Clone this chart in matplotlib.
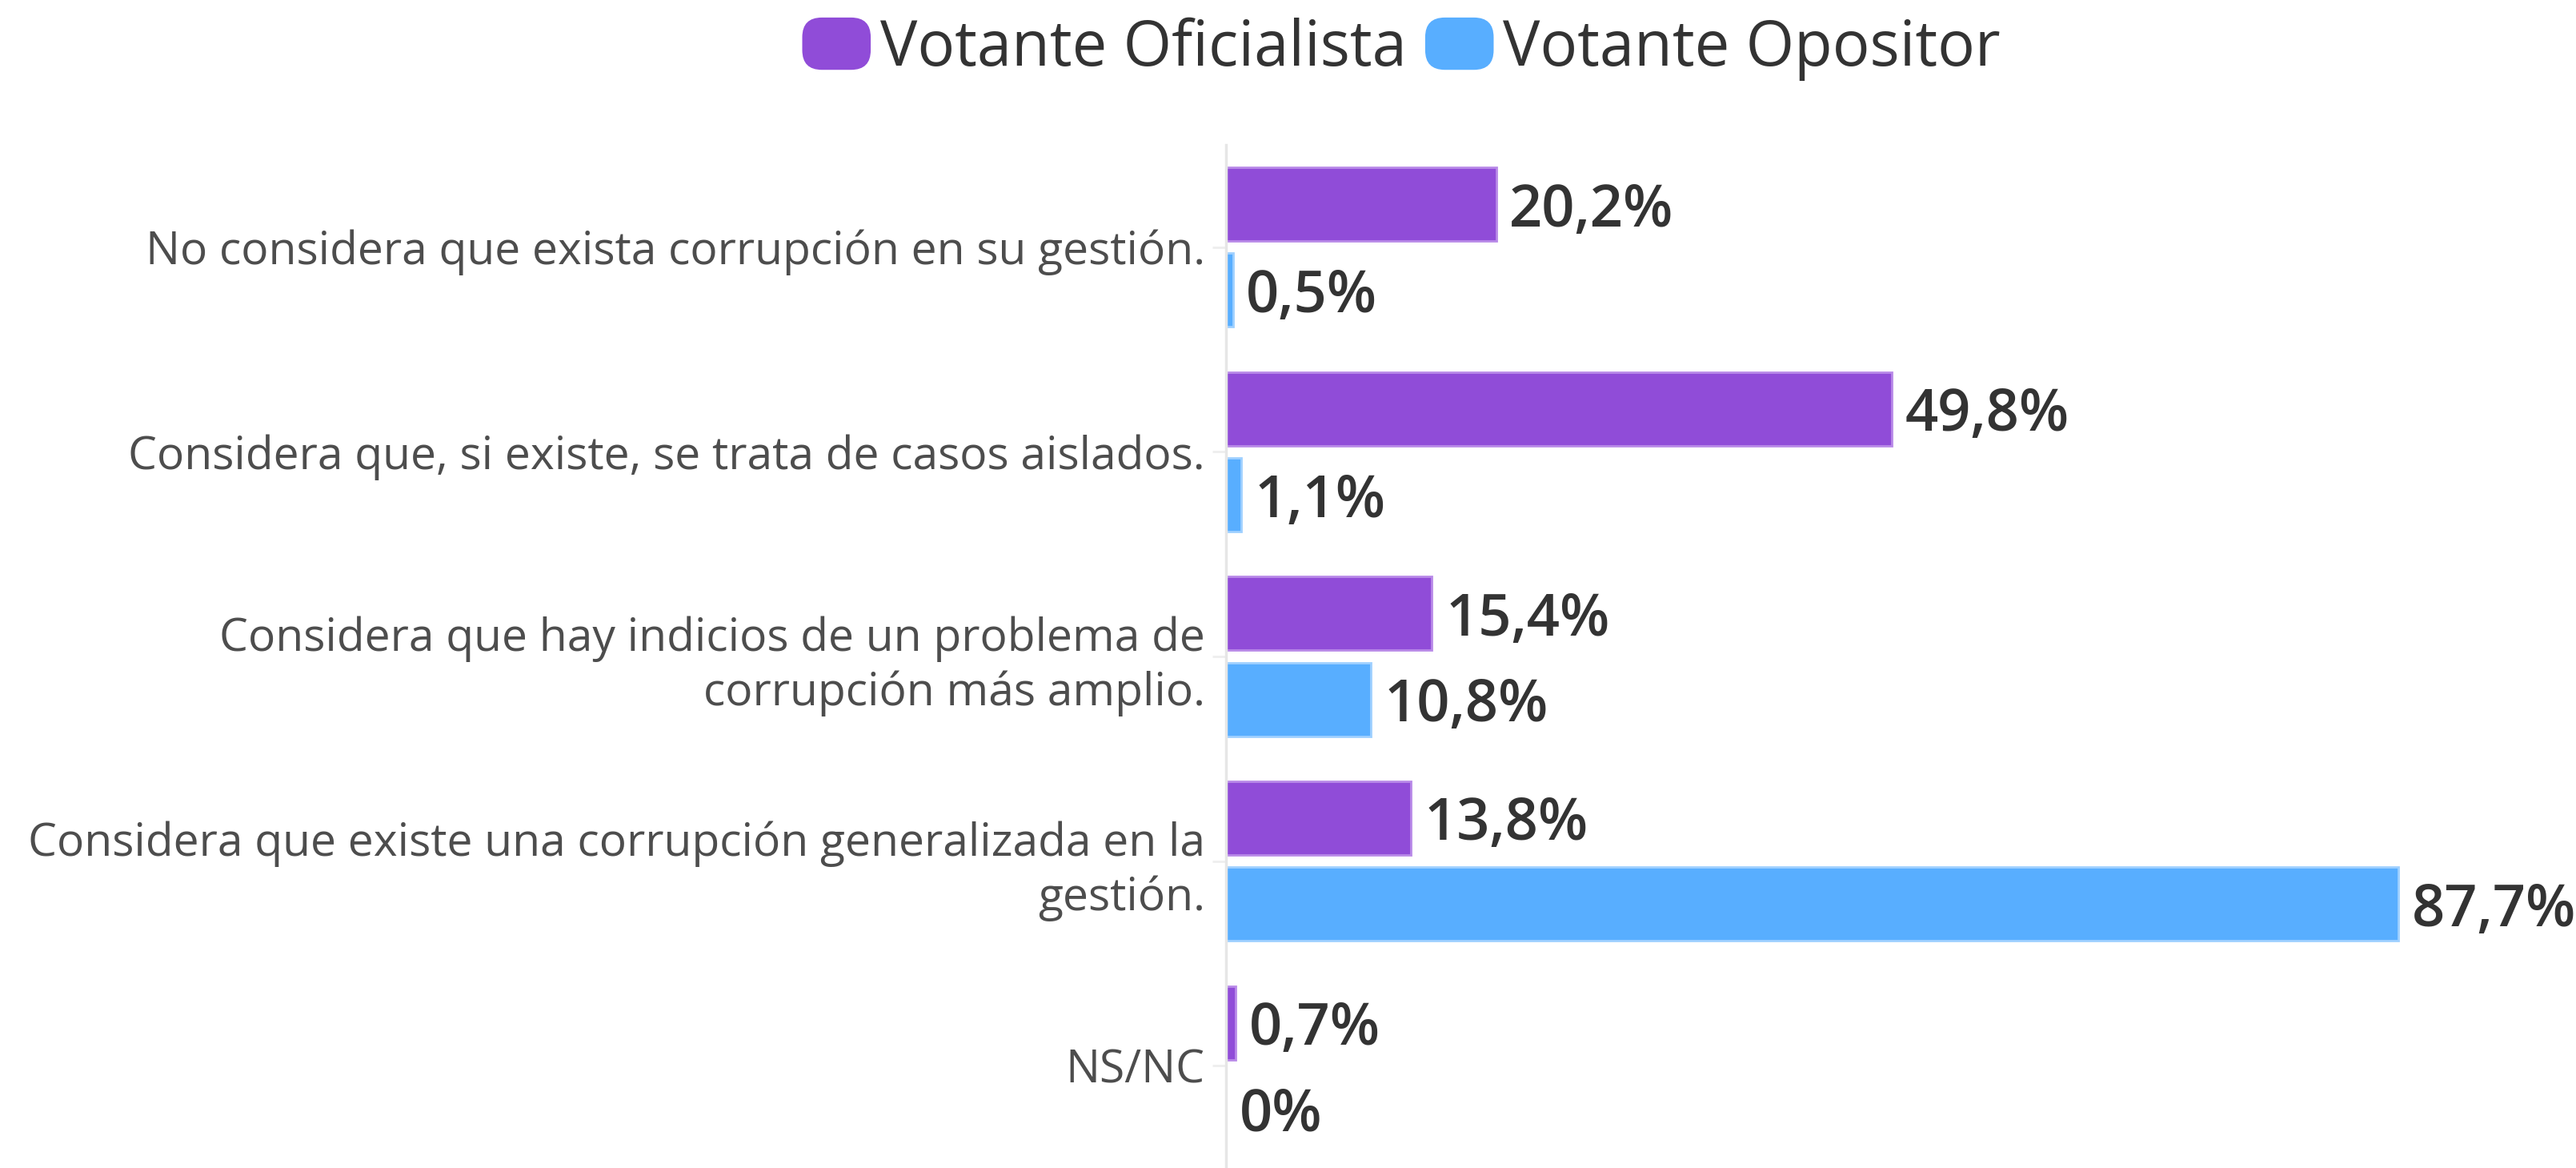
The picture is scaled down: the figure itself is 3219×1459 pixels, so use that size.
import matplotlib
matplotlib.use("Agg")
from matplotlib import pyplot as plt
from matplotlib.patches import FancyBboxPatch, Patch
from matplotlib.legend_handler import HandlerPatch
import numpy as np

plt.rcParams['font.family'] = ['Open Sans', 'DejaVu Sans']

# data
categorias = [
    "No considera que exista corrupción en su gestión.",
    "Considera que, si existe, se trata de casos aislados.",
    "Considera que hay indicios de un problema de\ncorrupción más amplio.",
    "Considera que existe una corrupción generalizada en la\ngestión.",
    "NS/NC",
]
oficialista = [20.2, 49.8, 15.4, 13.8, 0.7]
opositor = [0.5, 1.1, 10.8, 87.7, 0.0]
etiquetas_of = ["20,2%", "49,8%", "15,4%", "13,8%", "0,7%"]
etiquetas_op = ["0,5%", "1,1%", "10,8%", "87,7%", "0%"]
series = ["Votante Oficialista", "Votante Opositor"]

morado = '#904cd8'
celeste = '#58aeff'

fig = plt.figure(figsize=(32.19, 14.59), dpi=100)
ax = fig.add_axes([0.476, 0.0, 0.524, 0.876])

y = np.arange(len(categorias))
h = 0.36
off = 0.21
ax.barh(y - off, oficialista, height=h, color=morado, edgecolor='#b98ae8', linewidth=2)
ax.barh(y + off, opositor, height=h, color=celeste, edgecolor='#9fd0ff', linewidth=2)

for i in range(len(categorias)):
    ax.text(oficialista[i] + 1.0, y[i] - off, etiquetas_of[i], va='center_baseline', ha='left',
            fontsize=52, color='#333333', fontweight='semibold')
    ax.text(opositor[i] + 1.0, y[i] + off, etiquetas_op[i], va='center_baseline', ha='left',
            fontsize=52, color='#333333', fontweight='semibold')

ax.set_xlim(0, 101)
ax.set_ylim(len(categorias) - 0.5, -0.5)
ax.set_yticks(y)
ax.set_yticklabels(categorias, fontsize=41, color='#4d4d4d', ha='right', multialignment='right',
                   linespacing=1.25)
ax.tick_params(axis='y', length=12, width=2, color='#eeeeee', pad=7)
ax.set_xticks([])
for s in ['top', 'right', 'bottom']:
    ax.spines[s].set_visible(False)
ax.spines['left'].set_color('#e6e6e6')
ax.spines['left'].set_linewidth(2.5)


class RoundHandler(HandlerPatch):
    def create_artists(self, legend, orig_handle, xdescent, ydescent, width, height, fontsize, trans):
        p = FancyBboxPatch((-xdescent, -ydescent - height * 0.1), width, height * 1.2,
                           boxstyle='round,pad=0,rounding_size=%f' % (height * 0.45),
                           facecolor=orig_handle.get_facecolor(), edgecolor='none', transform=trans)
        return [p]


handles = [Patch(color=morado), Patch(color=celeste)]
fig.legend(handles, series, loc='center', bbox_to_anchor=(0.544, 0.958), ncol=2, frameon=False,
           fontsize=56, handlelength=1.1, handletextpad=0.15, columnspacing=0.3,
           handler_map={Patch: RoundHandler()}, labelcolor='#333333')

fig.savefig('out.png', dpi=100)
